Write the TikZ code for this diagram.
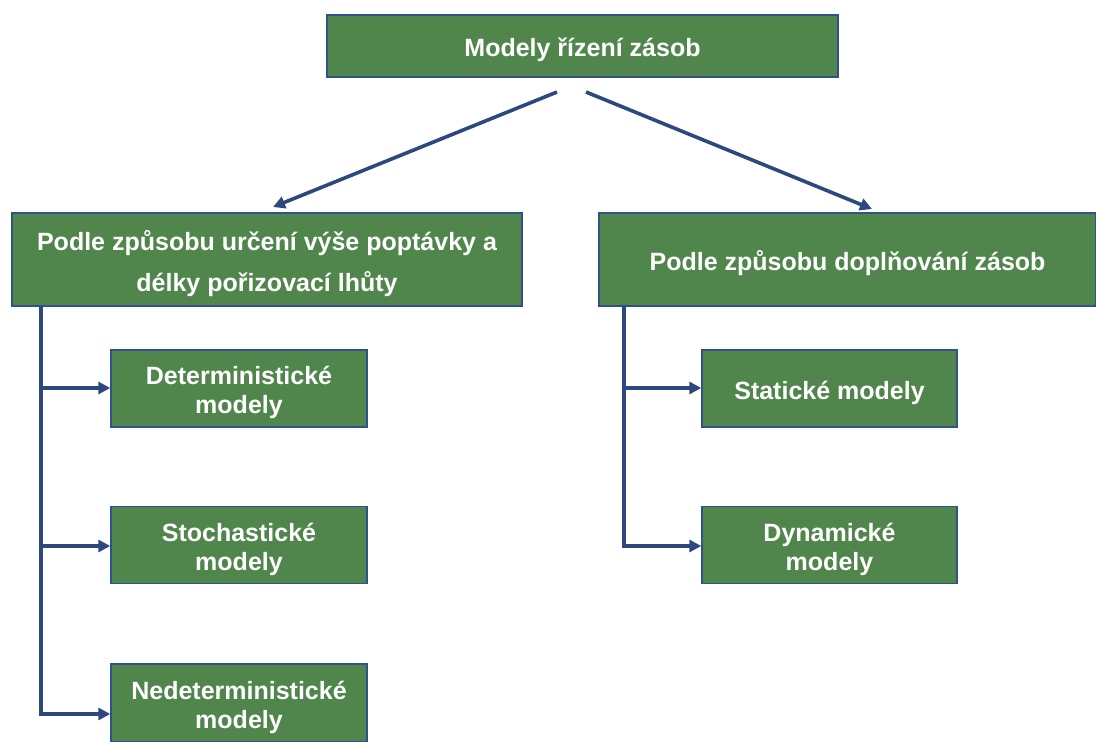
\documentclass[tikz,border=0pt]{standalone}
\usepackage{fontspec}
\setmainfont{Liberation Sans}
\usetikzlibrary{arrows.meta}
\definecolor{boxgreen}{RGB}{80,134,76}
\definecolor{boxedge}{RGB}{47,82,143}
\definecolor{linkblue}{RGB}{45,72,126}
\begin{document}
\begin{tikzpicture}[x=1pt,y=-1pt,
  box/.style={draw=boxedge,line width=1.4pt,fill=boxgreen,inner sep=0pt},
  boxtext/.style={text=white,font=\fontsize{25}{29}\selectfont\bfseries,
    align=center,inner sep=0pt,yshift=-4pt},
  link/.style={draw=linkblue,line width=3.6pt,
    -{Triangle[length=12pt,width=12pt]}},
  trunk/.style={draw=linkblue,line width=3.6pt}]
\useasboundingbox (0,0) rectangle (1096,742);
% main title
\node[box,minimum width=511pt,minimum height=62pt] (top) at (582.5,46) {};
\node[boxtext] (top-t) at (top.center) {Modely řízení zásob};
% two classification criteria
\node[box,minimum width=510pt,minimum height=93pt] (crit1) at (267,259.5) {};
\node[boxtext,font=\fontsize{25}{41}\selectfont\bfseries] (crit1-t) at (crit1.center)
  {Podle způsobu určení výše poptávky a\\délky pořizovací lhůty};
\node[box,minimum width=497pt,minimum height=93pt] (crit2) at (847.5,259.5) {};
\node[boxtext] (crit2-t) at (crit2.center) {Podle způsobu doplňování zásob};
% model types
\node[box,minimum width=256pt,minimum height=77pt] (det) at (239,388.5) {};
\node[boxtext] (det-t) at (det.center) {Deterministické\\modely};
\node[box,minimum width=256pt,minimum height=77pt] (sto) at (239,545) {};
\node[boxtext] (sto-t) at (sto.center) {Stochastické\\modely};
\node[box,minimum width=256pt,minimum height=78pt] (ndet) at (239,703) {};
\node[boxtext] (ndet-t) at (ndet.center) {Nedeterministické\\modely};
\node[box,minimum width=255pt,minimum height=77pt] (stat) at (829.5,388.5) {};
\node[boxtext] (stat-t) at (stat.center) {Statické modely};
\node[box,minimum width=255pt,minimum height=77pt] (dyn) at (829.5,545) {};
\node[boxtext] (dyn-t) at (dyn.center) {Dynamické\\modely};
% arrows from the title
\coordinate (sL) at (557,92);
\coordinate (sR) at (586,92);
\draw[link] (sL) -- (273,207);
\draw[link] (sR) -- (872,209);
% left tree
\coordinate (l0) at (41,306);
\coordinate (l3) at (41,714);
\draw[trunk] (l0) -- (l3);
\draw[link] (41,388) -- (det.west |- 0,388);
\draw[link] (41,546) -- (sto.west |- 0,546);
\draw[link] ([xshift=-1.8pt]l3) -- (ndet.west |- 0,714);
% right tree
\coordinate (r0) at (624,306);
\coordinate (r2) at (624,546);
\draw[trunk] (r0) -- (r2);
\draw[link] (624,388) -- (stat.west |- 0,388);
\draw[link] ([xshift=-1.8pt]r2) -- (dyn.west |- 0,546);
\end{tikzpicture}
\end{document}
